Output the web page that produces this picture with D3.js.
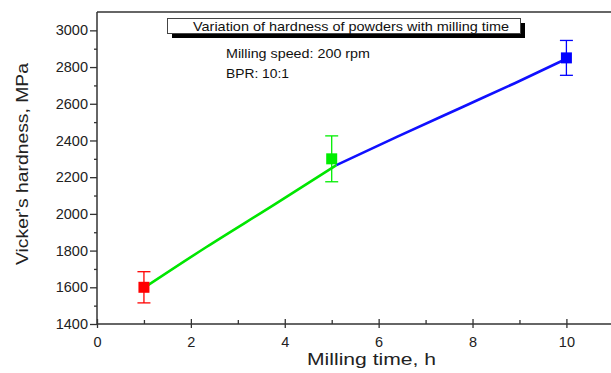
<!DOCTYPE html>
<html><head><meta charset="utf-8">
<script src="https://cdn.jsdelivr.net/npm/d3@7"></script>
<style>body{margin:0;background:#fff}svg{display:block}text{font-family:"Liberation Sans",Arial,sans-serif}</style>
</head><body>
<script>
// Data
const times = [1, 5, 10];
const hardness = [1600, 2300, 2850];
const errors = [85, 125, 95];
const pointColors = ["#ff0000", "#00ee00", "#0000ff"];
const fitGreenX = [1, 2.34, 3.76, 5.1];
const fitGreenY = [1597, 1821, 2048, 2266];
const fitBlueX = [5.1, 6.4, 7.8, 8.9, 10];
const fitBlueY = [2266, 2421, 2584, 2712, 2845];
const xTicks = [0, 2, 4, 6, 8, 10];
const yTicks = [1400, 1600, 1800, 2000, 2200, 2400, 2600, 2800, 3000];
const titleText = "Variation of hardness of powders with milling time";
const notes = ["Milling speed: 200 rpm", "BPR: 10:1"];

const W = 611, H = 373;
const svg = d3.select("body").append("svg").attr("width", W).attr("height", H);
const x = d3.scaleLinear().domain([0, 10.95]).range([97, 611]);
const y = d3.scaleLinear().domain([1400, 3100]).range([324, 12]);
const axisColor = "#333";
const ff = "Liberation Sans, Arial, sans-serif";

// frame top
svg.append("line").attr("x1", x(0)).attr("x2", W).attr("y1", y(3100)).attr("y2", y(3100))
  .attr("stroke", axisColor).attr("stroke-width", 1.5);

// y axis
const ya = svg.append("g").attr("transform", `translate(${x(0)},0)`);
ya.call(d3.axisLeft(y).tickValues(yTicks).tickSize(7).tickPadding(2).tickFormat(d3.format("d")));
const ym = ya.append("g").call(d3.axisLeft(y).tickValues(d3.range(1500, 3100, 200)).tickSize(3).tickFormat(""));
ym.select("path.domain").remove();
ya.select("path.domain").attr("d", `M0,${y(1400)}V${y(3100)}`);
ya.selectAll("path.domain").attr("stroke", axisColor).attr("stroke-width", 1.5);
ya.selectAll(".tick line").attr("stroke", axisColor).attr("stroke-width", 1.3);
ya.selectAll(".tick text").attr("font-size", 14.5).attr("fill", "#222").attr("font-family", ff);

// x axis
const xa = svg.append("g").attr("transform", `translate(0,${y(1400)})`);
xa.call(d3.axisBottom(x).tickValues(xTicks).tickSizeInner(4).tickSizeOuter(0).tickPadding(9).tickFormat(d3.format("d")));
xa.selectAll(".tick line").attr("y1", -5).attr("y2", 4);
const xm = xa.append("g").call(d3.axisBottom(x).tickValues([1,3,5,7,9]).tickSize(0).tickFormat(""));
xm.selectAll(".tick line").attr("y1", -4).attr("y2", 0);
xm.select("path.domain").remove();
xa.select("path.domain").attr("d", `M${x(0)},0H${W}`);
xa.selectAll("path.domain").attr("stroke", axisColor).attr("stroke-width", 1.5);
xa.selectAll(".tick line").attr("stroke", axisColor).attr("stroke-width", 1.3);
xa.selectAll(".tick text").attr("font-size", 14.5).attr("fill", "#222").attr("font-family", ff);

// axis titles
svg.append("text").attr("x", 307).attr("y", 365)
  .attr("font-size", 17).attr("fill", "#222")
  .attr("textLength", 129).attr("lengthAdjust", "spacingAndGlyphs").text("Milling time, h");
svg.append("text").attr("transform", `translate(28,265) rotate(-90)`)
  .attr("font-size", 16.5).attr("fill", "#222")
  .attr("textLength", 202).attr("lengthAdjust", "spacingAndGlyphs").text("Vicker's hardness, MPa");

// fit curves
const line = d3.line().x(d => x(d[0])).y(d => y(d[1])).curve(d3.curveMonotoneX);
svg.append("path").datum(d3.zip(fitGreenX, fitGreenY)).attr("d", line)
  .attr("fill", "none").attr("stroke", "#00e600").attr("stroke-width", 2.6);
svg.append("path").datum(d3.zip(fitBlueX, fitBlueY)).attr("d", line)
  .attr("fill", "none").attr("stroke", "#1010ff").attr("stroke-width", 2.6);

// error bars and squares
times.forEach((t, i) => {
  const g = svg.append("g").attr("stroke", pointColors[i]).attr("stroke-width", 1.3);
  const cx = x(t), top = y(hardness[i] + errors[i]), bot = y(hardness[i] - errors[i]);
  g.append("line").attr("x1", cx).attr("x2", cx).attr("y1", top).attr("y2", bot);
  g.append("line").attr("x1", cx - 6.5).attr("x2", cx + 6.5).attr("y1", top).attr("y2", top);
  g.append("line").attr("x1", cx - 6.5).attr("x2", cx + 6.5).attr("y1", bot).attr("y2", bot);
  svg.append("rect").attr("x", cx - 5.5).attr("y", y(hardness[i]) - 5.5)
    .attr("width", 11).attr("height", 11).attr("fill", pointColors[i]);
});

// title box with shadow
svg.append("rect").attr("x", 172).attr("y", 23).attr("width", 353).attr("height", 15).attr("fill", "#000");
svg.append("rect").attr("x", 167.5).attr("y", 18.5).attr("width", 353).attr("height", 15)
  .attr("fill", "#fff").attr("stroke", "#444").attr("stroke-width", 1);
svg.append("text").attr("x", 193).attr("y", 30.5)
  .attr("font-size", 13).attr("fill", "#111")
  .attr("textLength", 316).attr("lengthAdjust", "spacingAndGlyphs").text(titleText);

const noteWidths = [144, 63];
notes.forEach((n, i) => {
  svg.append("text").attr("x", 226).attr("y", 57.5 + i * 20).attr("font-size", 12.5).attr("fill", "#111")
    .attr("textLength", noteWidths[i]).attr("lengthAdjust", "spacingAndGlyphs").text(n);
});
</script>
</body></html>
